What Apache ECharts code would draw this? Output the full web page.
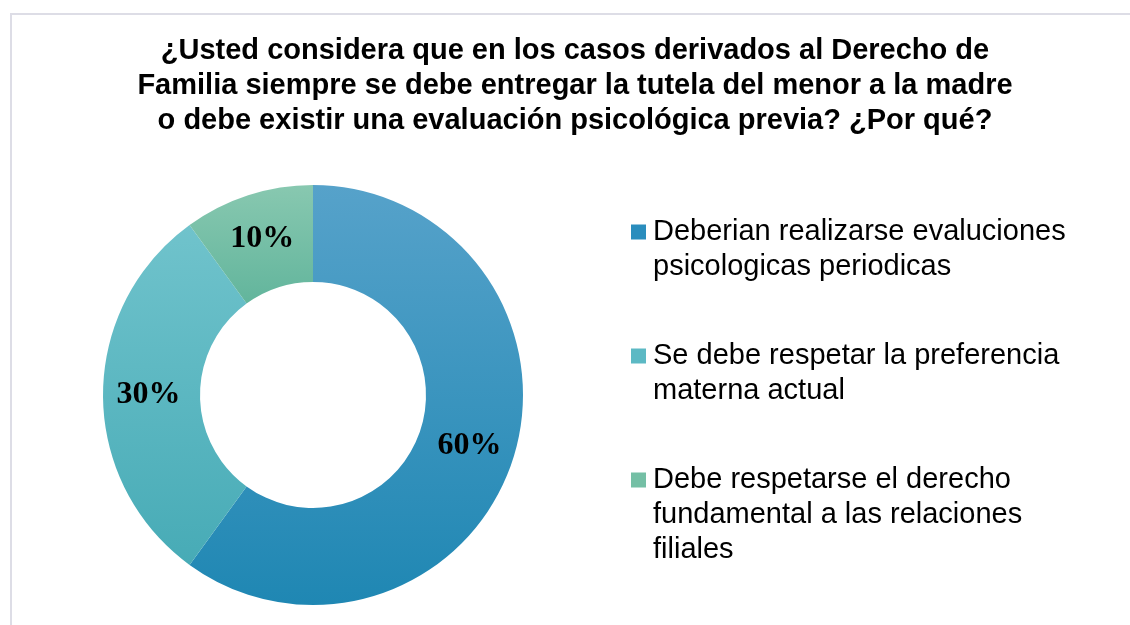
<!DOCTYPE html>
<html>
<head>
<meta charset="utf-8">
<script src="https://cdn.jsdelivr.net/npm/echarts@6/dist/echarts.min.js"></script>
<style>
  html, body { margin: 0; padding: 0; background: #fff; }
  #chart { width: 1130px; height: 625px; }
</style>
</head>
<body>
<div id="chart"></div>
<script>
var categories = [
    'Deberian realizarse evaluciones\npsicologicas periodicas',
    'Se debe respetar la preferencia\nmaterna actual',
    'Debe respetarse el derecho\nfundamental a las relaciones\nfiliales'
];
var values = [60, 30, 10];
var labels = ['60%', '30%', '10%'];
var topColors = ['#56A2CA', '#70C3CC', '#88C8B0'];
var bottomColors = ['#1F87B3', '#47ABB6', '#62B59C'];
var markerColors = ['#2A8DBD', '#5CB9C4', '#74BFA5'];
var legendFirstLine = [232, 356, 480];

var dom = document.getElementById('chart');
var myChart = echarts.init(dom);

var seriesData = categories.map(function(name, i) {
    return {
        name: name,
        value: values[i],
        label: { formatter: labels[i] },
        itemStyle: {
            color: new echarts.graphic.LinearGradient(0, 0, 0, 1, [
                { offset: 0, color: topColors[i] },
                { offset: 1, color: bottomColors[i] }
            ])
        }
    };
});

// one legend per item; the icon is as tall as the text block,
// with the square drawn at the top so it sits by the first line
var lineH = 35;
var legends = categories.map(function(name, i) {
    var h = name.split('\n').length * lineH;
    var icon = 'path://M0,0L0,0M0,10L15,10L15,25L0,25ZM0,' + h + 'L0,' + h;
    return {
        orient: 'vertical',
        left: 631,
        top: legendFirstLine[i] - lineH / 2,
        padding: 0,
        itemWidth: 15,
        itemHeight: h,
        icon: icon,
        selectedMode: false,
        data: [{
            name: name,
            itemStyle: { color: markerColors[i] }
        }],
        textStyle: {
            fontFamily: 'Liberation Sans, Arial, sans-serif',
            fontSize: 29,
            lineHeight: lineH,
            color: '#000',
            padding: [0, 0, 0, 2]
        }
    };
});

var option = {
    backgroundColor: '#fff',
    animation: false,
    title: {
        text: '¿Usted considera que en los casos derivados al Derecho de\nFamilia siempre se debe entregar la tutela del menor a la madre\no debe existir una evaluación psicológica previa? ¿Por qué?',
        left: 570,
        top: 28,
        textAlign: 'center',
        textStyle: {
            fontFamily: 'Liberation Sans, Arial, sans-serif',
            fontSize: 29,
            fontWeight: 'bold',
            lineHeight: 35,
            color: '#000'
        }
    },
    graphic: [{
        type: 'rect',
        shape: { x: 11, y: 14, width: 1200, height: 700 },
        style: { fill: 'none', stroke: '#DDDDE6', lineWidth: 2 },
        silent: true
    }],
    legend: legends,
    series: [{
        type: 'pie',
        center: [313, 395],
        radius: [113, 210],
        startAngle: 90,
        clockwise: true,
        avoidLabelOverlap: false,
        label: {
            show: true,
            position: 'inside',
            fontFamily: 'Liberation Serif, Times New Roman, serif',
            fontWeight: 'bold',
            fontSize: 32,
            color: '#000'
        },
        labelLine: { show: false },
        itemStyle: { borderWidth: 0 },
        emphasis: { disabled: true },
        data: seriesData
    }]
};
myChart.setOption(option, true);
</script>
</body>
</html>
